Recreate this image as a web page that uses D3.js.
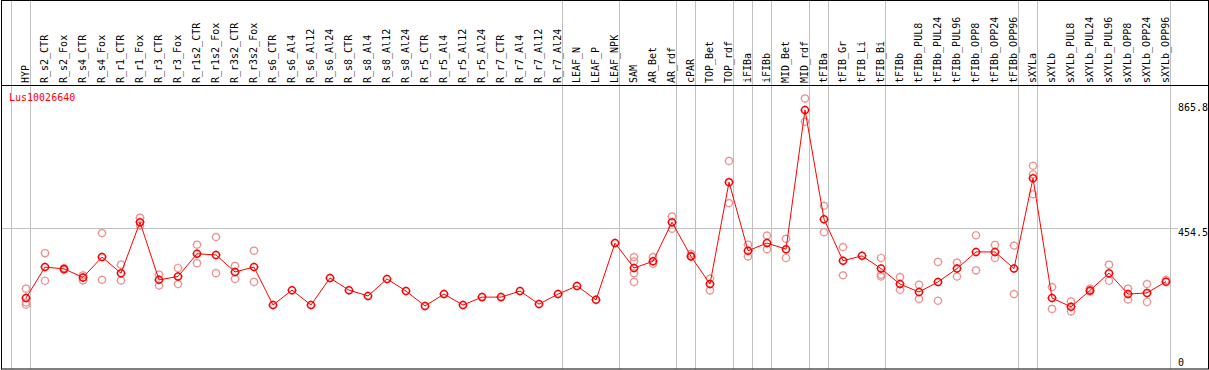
<!DOCTYPE html>
<html>
<head>
<meta charset="utf-8">
<script src="https://cdn.jsdelivr.net/npm/d3@7"></script>
<style>
  body { margin: 0; background: #fff; }
  text { font-family: "DejaVu Sans Mono", monospace; font-size: 10px; }
</style>
</head>
<body>
<svg id="canvas"></svg>
<script>
// sample names (columns)
const categories = ["HYP",
  "R_s2_CTR","R_s2_Fox","R_s4_CTR","R_s4_Fox","R_r1_CTR","R_r1_Fox","R_r3_CTR","R_r3_Fox",
  "R_r1s2_CTR","R_r1s2_Fox","R_r3s2_CTR","R_r3s2_Fox",
  "R_s6_CTR","R_s6_Al4","R_s6_Al12","R_s6_Al24","R_s8_CTR","R_s8_Al4","R_s8_Al12","R_s8_Al24",
  "R_r5_CTR","R_r5_Al4","R_r5_Al12","R_r5_Al24","R_r7_CTR","R_r7_Al4","R_r7_Al12","R_r7_Al24",
  "LEAF_N","LEAF_P","LEAF_NPK","SAM","AR_Bet","AR_rdf","cPAR","TOP_Bet","TOP_rdf",
  "iFIBa","iFIBb","MID_Bet","MID_rdf","tFIBa","tFIB_Gr","tFIB_Li","tFIB_Bi",
  "tFIBb","tFIBb_PUL8","tFIBb_PUL24","tFIBb_PUL96","tFIBb_OPP8","tFIBb_OPP24","tFIBb_OPP96",
  "sXYLa","sXYLb","sXYLb_PUL8","sXYLb_PUL24","sXYLb_PUL96","sXYLb_OPP8","sXYLb_OPP24","sXYLb_OPP96"];

// mean expression per sample
const means = [224,
  326,320,292,359,306,474,284,295,
  370,366,310,326,
  201,250,201,290,250,231,287,247,
  198,237,201,227,227,247,204,237,
  264,218,405,323,345,474,361,270,606,
  380,405,385,844,484,347,363,321,
  270,244,277,321,376,376,321,
  619,224,195,249,306,237,241,278];

// replicate values (empty where none shown)
const replicates = [[255,209,202],
  [372,281],[323,317],[299,282],[438,284],[334,282],[489,463],[301,265],[323,270],
  [400,339],[425,306],[330,287],[380,277],
  [],[],[],[],[],[],[],[],
  [],[],[],[],[],[],[],[],
  [],[],[],[359,345,306,277],[359,337],[493,452],[370,364],[288,249],[676,537],
  [400,361],[430,385],[419,356],[882,805],[528,441],[392,299],[],[356,301,295],
  [293,251],[268,221],[343,215],[341,295],[431,315],[399,356],[397,237],
  [660,632,566],[260,188],[213,180],[255,245],[334,281],[255,219],[270,211],[284]];

// first sample of each group (separator drawn on its left)
const groupStarts = ["HYP","R_s2_CTR","LEAF_N","SAM","cPAR","TOP_Bet","iFIBa","iFIBb",
  "MID_Bet","tFIBa","tFIB_Gr","tFIBb","sXYLa","sXYLb"];

const yTicks = [0, 454.5, 865.8];
const gridValues = [454.5];
const geneName = "Lus10026640";

const width = 1209, height = 370;
const svg = d3.select("#canvas").attr("width", width).attr("height", height);

const headerBottom = 85.5;

const xScale = d3.scaleBand()
    .domain(categories)
    .range([11, 11 + 19 * categories.length])
    .paddingInner(0).paddingOuter(0);
const px = c => xScale(c) + 15;

const yScale = d3.scaleLinear()
    .domain([0, 865.8])
    .range([366, 103.3]);

// horizontal grid
svg.append("g").selectAll("line").data(gridValues).join("line")
    .attr("x1", 1).attr("x2", 1178)
    .attr("y1", d => Math.round(yScale(d)) + 0.5)
    .attr("y2", d => Math.round(yScale(d)) + 0.5)
    .attr("stroke", "#c0c0c0");

// group separators
const sepX = groupStarts.map(c => xScale(c)).concat([xScale.range()[1]]);
svg.append("g").selectAll("line").data(sepX).join("line")
    .attr("x1", d => d + 0.5).attr("x2", d => d + 0.5)
    .attr("y1", 0).attr("y2", 369)
    .attr("stroke", "#c0c0c0");

// header line + frame
svg.append("line")
    .attr("x1", 1).attr("x2", 1209)
    .attr("y1", headerBottom).attr("y2", headerBottom)
    .attr("stroke", "#000");
svg.append("rect")
    .attr("x", 1.5).attr("y", 0.5).attr("width", 1207).attr("height", 368.5)
    .attr("fill", "none").attr("stroke", "#000");

// column labels
svg.append("g").selectAll("text").data(categories).join("text")
    .attr("transform", d => `translate(${px(d) + 3},83) rotate(-90)`)
    .attr("fill", "#000")
    .text(d => d);

// right axis labels
const axis = svg.append("g")
    .attr("transform", "translate(1172,0)")
    .call(d3.axisRight(yScale).tickValues(yTicks).tickSize(0).tickPadding(6)
        .tickFormat(d => d === 0 ? "0" : d3.format(".1f")(d)));
axis.select(".domain").remove();
axis.selectAll(".tick").attr("transform", d => `translate(0,${Math.min(yScale(d) + 7.5, 365.7)})`);
axis.selectAll("text")
    .attr("dy", 0).attr("fill", "#000")
    .style("font-family", "DejaVu Sans Mono").style("font-size", "10px");

// gene name
svg.append("text")
    .attr("x", 9).attr("y", 101)
    .attr("fill", "#ff0000")
    .text(geneName);

// marker: circle with small ticks
const marker = r => `M${-r},0a${r},${r} 0 1,0 ${2 * r},0a${r},${r} 0 1,0 ${-2 * r},0` +
    `M0,${-r - 1}v1M0,${r}v1M${-r - 1},0h1M${r},0h1`;

// replicates
const reps = [];
categories.forEach((c, i) => replicates[i].forEach(v => reps.push({c, v})));
svg.append("g").selectAll("path").data(reps).join("path")
    .attr("transform", d => `translate(${px(d.c)},${yScale(d.v)})`)
    .attr("d", marker(3.5))
    .attr("fill", "none")
    .attr("stroke", "#ec9090")
    .attr("stroke-width", 1.2);

// mean line
const line = d3.line()
    .x((d, i) => px(categories[i]))
    .y(d => yScale(d));
svg.append("path")
    .datum(means)
    .attr("d", line)
    .attr("fill", "none")
    .attr("stroke", "#ff0000")
    .attr("stroke-width", 1);

// mean markers
svg.append("g").selectAll("path").data(means).join("path")
    .attr("transform", (d, i) => `translate(${px(categories[i])},${yScale(d)})`)
    .attr("d", marker(3.5))
    .attr("fill", "none")
    .attr("stroke", "#ff0000")
    .attr("stroke-width", 1.5);
</script>
</body>
</html>
